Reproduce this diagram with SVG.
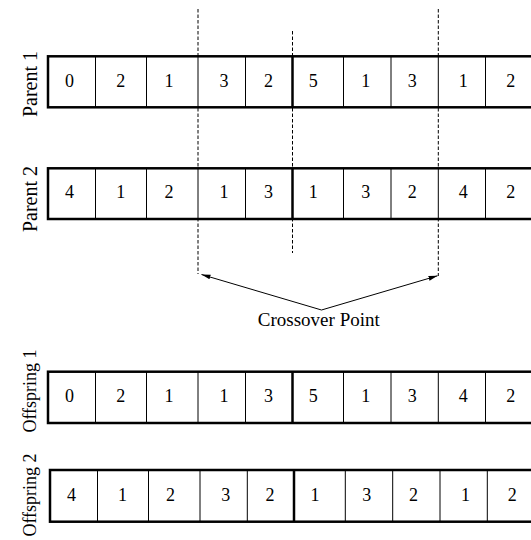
<svg xmlns="http://www.w3.org/2000/svg" width="531" height="540" viewBox="0 0 531 540">
<style>
  .box{fill:#fff;stroke:#000;stroke-width:2.5}
  .div{stroke:#000;stroke-width:1}
  .mid{stroke:#000;stroke-width:2.5}
  .dig{font-family:"Liberation Serif","Times New Roman",serif;font-size:18px;text-anchor:middle;fill:#000}
  .lbl{font-family:"Liberation Serif","Times New Roman",serif;font-size:20px;text-anchor:middle;fill:#000}
  .lbl2{font-family:"Liberation Serif","Times New Roman",serif;font-size:18px;text-anchor:middle;fill:#000}
  .cap{font-family:"Liberation Serif","Times New Roman",serif;font-size:19px;text-anchor:middle;fill:#000}
  .dash{stroke:#000;stroke-width:1;stroke-dasharray:3.5,2;fill:none}
  .arr{stroke:#000;stroke-width:1;fill:none;marker-end:url(#ah)}
</style>
<defs>
  <marker id="ah" markerUnits="userSpaceOnUse" markerWidth="10" markerHeight="6" refX="9" refY="3" orient="auto">
    <path d="M0,0.6 L9,3 L0,5.4 Z" fill="#000"/>
  </marker>
</defs>

<g id="connectors">
  <line class="dash" x1="198" y1="9" x2="198" y2="274"/>
  <line class="dash" x1="292.5" y1="31" x2="292.5" y2="253"/>
  <line class="dash" x1="438.3" y1="9" x2="438.3" y2="276"/>
  <line class="arr" x1="321.5" y1="310" x2="201.5" y2="274.5"/>
  <line class="arr" x1="321.5" y1="310" x2="437.5" y2="275.8"/>
</g>

<g id="parent1">
  <text class="lbl" transform="translate(37,84) rotate(-90)">Parent 1</text>
  <rect class="box" x="48" y="56.3" width="495" height="51"/>
  <g class="div">
    <line x1="95.5" y1="56.3" x2="95.5" y2="107.3"/>
    <line x1="146.5" y1="56.3" x2="146.5" y2="107.3"/>
    <line x1="198" y1="56.3" x2="198" y2="107.3"/>
    <line x1="245.5" y1="56.3" x2="245.5" y2="107.3"/>
    <line x1="343.5" y1="56.3" x2="343.5" y2="107.3"/>
    <line x1="391" y1="56.3" x2="391" y2="107.3"/>
    <line x1="438.3" y1="56.3" x2="438.3" y2="107.3"/>
    <line x1="485.5" y1="56.3" x2="485.5" y2="107.3"/>
  </g>
  <line class="mid" x1="292.5" y1="56.3" x2="292.5" y2="107.3"/>
  <text class="dig" x="69.5" y="87">0</text>
  <text class="dig" x="120.7" y="87">2</text>
  <text class="dig" x="169" y="87">1</text>
  <text class="dig" x="224" y="87">3</text>
  <text class="dig" x="268.5" y="87">2</text>
  <text class="dig" x="313.3" y="87">5</text>
  <text class="dig" x="365.7" y="87">1</text>
  <text class="dig" x="412.3" y="87">3</text>
  <text class="dig" x="463.3" y="87">1</text>
  <text class="dig" x="510.7" y="87">2</text>
</g>

<g id="parent2">
  <text class="lbl" transform="translate(37,199) rotate(-90)">Parent 2</text>
  <rect class="box" x="48" y="168.3" width="495" height="50.7"/>
  <g class="div">
    <line x1="95.5" y1="168.3" x2="95.5" y2="219"/>
    <line x1="146.5" y1="168.3" x2="146.5" y2="219"/>
    <line x1="198" y1="168.3" x2="198" y2="219"/>
    <line x1="245.5" y1="168.3" x2="245.5" y2="219"/>
    <line x1="343.5" y1="168.3" x2="343.5" y2="219"/>
    <line x1="391" y1="168.3" x2="391" y2="219"/>
    <line x1="438.3" y1="168.3" x2="438.3" y2="219"/>
    <line x1="485.5" y1="168.3" x2="485.5" y2="219"/>
  </g>
  <line class="mid" x1="292.5" y1="168.3" x2="292.5" y2="219"/>
  <text class="dig" x="69.5" y="197.5">4</text>
  <text class="dig" x="120.7" y="197.5">1</text>
  <text class="dig" x="169" y="197.5">2</text>
  <text class="dig" x="224" y="197.5">1</text>
  <text class="dig" x="268.5" y="197.5">3</text>
  <text class="dig" x="313.3" y="197.5">1</text>
  <text class="dig" x="365.7" y="197.5">3</text>
  <text class="dig" x="412.3" y="197.5">2</text>
  <text class="dig" x="463.3" y="197.5">4</text>
  <text class="dig" x="510.7" y="197.5">2</text>
</g>

<g id="crossover-label">
  <text class="cap" x="318.8" y="326">Crossover Point</text>
</g>

<g id="offspring1">
  <text class="lbl2" transform="translate(36,391) rotate(-90)">Offspring 1</text>
  <rect class="box" x="48" y="371.7" width="495" height="51.3"/>
  <g class="div">
    <line x1="95.5" y1="371.7" x2="95.5" y2="423"/>
    <line x1="146.5" y1="371.7" x2="146.5" y2="423"/>
    <line x1="198" y1="371.7" x2="198" y2="423"/>
    <line x1="245.5" y1="371.7" x2="245.5" y2="423"/>
    <line x1="343.5" y1="371.7" x2="343.5" y2="423"/>
    <line x1="391" y1="371.7" x2="391" y2="423"/>
    <line x1="438.3" y1="371.7" x2="438.3" y2="423"/>
    <line x1="485.5" y1="371.7" x2="485.5" y2="423"/>
  </g>
  <line class="mid" x1="292.5" y1="371.7" x2="292.5" y2="423"/>
  <text class="dig" x="69.5" y="402">0</text>
  <text class="dig" x="120.7" y="402">2</text>
  <text class="dig" x="169" y="402">1</text>
  <text class="dig" x="224" y="402">1</text>
  <text class="dig" x="268.5" y="402">3</text>
  <text class="dig" x="313.3" y="402">5</text>
  <text class="dig" x="365.7" y="402">1</text>
  <text class="dig" x="412.3" y="402">3</text>
  <text class="dig" x="463.3" y="402">4</text>
  <text class="dig" x="510.7" y="402">2</text>
</g>

<g id="offspring2">
  <text class="lbl2" transform="translate(36,495) rotate(-90)">Offspring 2</text>
  <rect class="box" x="50" y="470" width="495" height="51.7"/>
  <g class="div">
    <line x1="97.5" y1="470" x2="97.5" y2="521.7"/>
    <line x1="148.5" y1="470" x2="148.5" y2="521.7"/>
    <line x1="200" y1="470" x2="200" y2="521.7"/>
    <line x1="247.3" y1="470" x2="247.3" y2="521.7"/>
    <line x1="345.3" y1="470" x2="345.3" y2="521.7"/>
    <line x1="392.7" y1="470" x2="392.7" y2="521.7"/>
    <line x1="440" y1="470" x2="440" y2="521.7"/>
    <line x1="487.3" y1="470" x2="487.3" y2="521.7"/>
  </g>
  <line class="mid" x1="294" y1="470" x2="294" y2="521.7"/>
  <text class="dig" x="71.5" y="500.5">4</text>
  <text class="dig" x="122.5" y="500.5">1</text>
  <text class="dig" x="170.5" y="500.5">2</text>
  <text class="dig" x="225.7" y="500.5">3</text>
  <text class="dig" x="270" y="500.5">2</text>
  <text class="dig" x="315" y="500.5">1</text>
  <text class="dig" x="366.7" y="500.5">3</text>
  <text class="dig" x="413.5" y="500.5">2</text>
  <text class="dig" x="465.5" y="500.5">1</text>
  <text class="dig" x="512.3" y="500.5">2</text>
</g>
</svg>
